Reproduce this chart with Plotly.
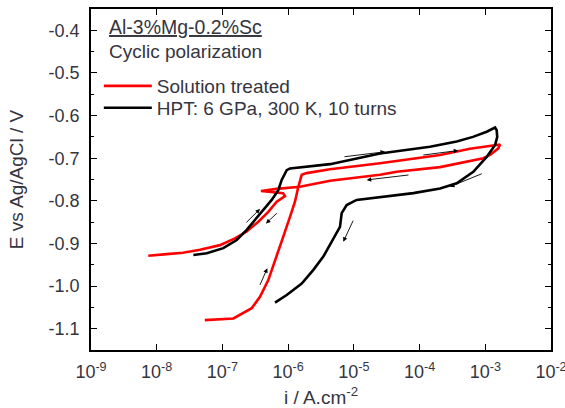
import numpy as np
import plotly.graph_objects as go

# ---------------- data ----------------
# Solution treated (red): forward scan from cathodic end, reverse scan back
red_i = [5.4e-8, 1.47e-7, 2.79e-7, 3.73e-7, 4.99e-7, 6.70e-7, 8.43e-7, 1.07e-6,
         1.27e-6, 1.43e-6, 1.61e-6, 1.91e-6, 4.34e-6, 2.50e-5, 2.05e-4, 5.85e-4,
         1.18e-3, 1.68e-3,
         1.58e-3, 1.18e-3, 9.33e-4, 4.63e-4, 2.05e-4, 4.49e-5, 2.50e-5, 4.34e-6,
         1.51e-6, 6.70e-7, 3.86e-7, 8.36e-7, 8.95e-7,
         6.70e-7, 4.99e-7, 3.52e-7, 2.34e-7, 1.55e-7, 9.18e-8, 4.56e-8, 2.51e-8,
         1.42e-8, 7.45e-9]
red_E = [-1.080, -1.076, -1.052, -1.025, -0.986, -0.931, -0.884, -0.837,
         -0.802, -0.767, -0.739, -0.735, -0.726, -0.712, -0.6925, -0.678,
         -0.671, -0.668,
         -0.677, -0.6925, -0.700, -0.710, -0.721, -0.732, -0.739, -0.753,
         -0.767, -0.772, -0.777, -0.782, -0.789,
         -0.802, -0.826, -0.849, -0.872, -0.888, -0.904, -0.915, -0.922,
         -0.925, -0.929]

# HPT: 6 GPa, 300 K, 10 turns (black)
blk_i = [3.61e-8, 5.77e-8, 1.03e-7, 1.65e-7, 2.34e-7, 3.13e-7, 4.19e-7, 5.62e-7,
         7.08e-7, 7.98e-7, 9.51e-7, 1.07e-6, 4.34e-6, 2.50e-5, 1.44e-4, 3.67e-4,
         6.50e-4, 1.05e-3, 1.41e-3,
         1.49e-3, 1.52e-3, 1.41e-3, 1.05e-3, 6.57e-4, 3.67e-4, 2.05e-4, 8.04e-5,
         2.50e-5, 1.10e-5, 7.78e-6, 6.53e-6, 6.15e-6, 4.60e-6, 3.43e-6, 2.42e-6,
         1.61e-6, 9.51e-7, 6.31e-7]
blk_E = [-0.927, -0.923, -0.911, -0.892, -0.868, -0.845, -0.822, -0.798,
         -0.775, -0.751, -0.728, -0.724, -0.714, -0.689, -0.673, -0.661,
         -0.650, -0.638, -0.628,
         -0.634, -0.650, -0.669, -0.697, -0.732, -0.759, -0.771, -0.782,
         -0.792, -0.798, -0.810, -0.829, -0.861, -0.896, -0.931, -0.962,
         -0.994, -1.021, -1.039]

# scan-direction arrows: (tail_i, tail_E, head_i, head_E)
arrows = [
    (2.20e-7, -0.854, 3.73e-7, -0.819),
    (7.08e-7, -0.826, 4.60e-7, -0.853),
    (3.64e-7, -1.001, 4.82e-7, -0.958),
    (1.00e-5, -0.843, 6.90e-6, -0.896),
    (6.84e-6, -0.697, 2.98e-5, -0.685),
    (1.08e-4, -0.693, 3.88e-4, -0.682),
    (7.14e-5, -0.739, 1.57e-5, -0.751),
    (9.33e-4, -0.735, 2.90e-4, -0.767),
]

x_tickvals = [1e-9, 1e-8, 1e-7, 1e-6, 1e-5, 1e-4, 1e-3, 1e-2]
x_ticktext = ["10<sup>-9</sup>", "10<sup>-8</sup>", "10<sup>-7</sup>", "10<sup>-6</sup>",
              "10<sup>-5</sup>", "10<sup>-4</sup>", "10<sup>-3</sup>", "10<sup>-2</sup>"]
y_tickvals = [-0.4, -0.5, -0.6, -0.7, -0.8, -0.9, -1.0, -1.1]
y_ticktext = ["-0.4", "-0.5", "-0.6", "-0.7", "-0.8", "-0.9", "-1.0", "-1.1"]

# ---------------- figure ----------------
FONT = "Arial, 'Liberation Sans', sans-serif"
TXT = "#35353f"
FS = 19

fig = go.Figure()
fig.add_trace(go.Scatter(x=red_i, y=red_E, mode="lines", name="Solution treated",
                         legend="legend",
                         line=dict(color="#ff0000", width=2.6)))
fig.add_trace(go.Scatter(x=blk_i, y=blk_E, mode="lines", name="HPT: 6 GPa, 300 K, 10 turns",
                         legend="legend2",
                         line=dict(color="#000000", width=2.6)))

for ti, tE, hi, hE in arrows:
    fig.add_annotation(x=np.log10(hi), y=hE, ax=np.log10(ti), ay=tE,
                       xref="x", yref="y", axref="x", ayref="y",
                       text="", showarrow=True, arrowhead=2, arrowsize=1.0,
                       arrowwidth=0.9, arrowcolor="#000000", standoff=0, startstandoff=0)

fig.add_annotation(x=0.035, y=0.946, xref="paper", yref="paper", xanchor="left", yanchor="middle",
                   text="<u>Al-3%Mg-0.2%Sc</u>", showarrow=False,
                   font=dict(family=FONT, size=FS + 0.5, color=TXT))
fig.add_annotation(x=0.035, y=0.876, xref="paper", yref="paper", xanchor="left", yanchor="middle",
                   text="Cyclic polarization", showarrow=False,
                   font=dict(family=FONT, size=FS, color=TXT))

axis_common = dict(showline=True, linecolor="#000000", linewidth=1.6, mirror="ticks",
                   ticks="inside", tickcolor="#000000", ticklen=6, tickwidth=1.3,
                   showgrid=False, zeroline=False, automargin=False,
                   tickfont=dict(family=FONT, size=FS - 1, color=TXT))

fig.update_xaxes(type="log", range=[-9, -2], tickvals=x_tickvals, ticktext=x_ticktext,
                 ticklabelstandoff=5, ticklabeloverflow="allow",
                 title=dict(text="i / A.cm<sup>-2</sup>", font=dict(family=FONT, size=FS, color=TXT),
                            standoff=10),
                 **axis_common)
fig.update_yaxes(range=[-1.15, -0.35], tickvals=y_tickvals, ticktext=y_ticktext,
                 minor=dict(dtick=0.05, tick0=-0.4, ticks="inside", ticklen=3, tickcolor="#000000",
                            tickwidth=1.2, showgrid=False),
                 ticklabelstandoff=6,
                 title=dict(text="E vs Ag/AgCl / V", font=dict(family=FONT, size=FS, color=TXT),
                            standoff=20),
                 **axis_common)

leg_common = dict(xanchor="left", yanchor="middle", bgcolor="rgba(0,0,0,0)", borderwidth=0,
                  font=dict(family=FONT, size=FS, color=TXT), itemwidth=48)
fig.update_layout(width=565, height=408,
                  margin=dict(l=91, r=14, t=9, b=58),
                  paper_bgcolor="#ffffff", plot_bgcolor="#ffffff",
                  showlegend=True,
                  legend=dict(x=0.017, y=0.774, **leg_common),
                  legend2=dict(x=0.017, y=0.710, **leg_common))

fig.write_html("out.html")
